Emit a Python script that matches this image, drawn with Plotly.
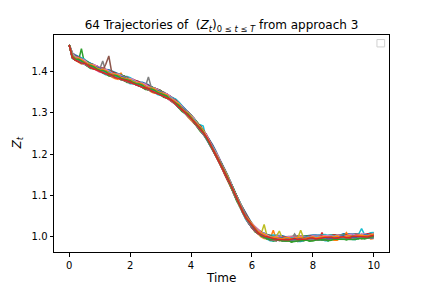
import plotly.graph_objects as go

# ---------------- data ----------------
N_TRAJ = 64
TIME = [round(0.1 * k, 1) for k in range(101)]  # time grid 0..10, step 0.1

# centre of the bundle of trajectories, one value per time step
BASE = [
    1.465,
    1.440, 1.433, 1.430, 1.426, 1.423, 1.419, 1.415, 1.412, 1.409, 1.406,
    1.403, 1.400, 1.397, 1.394, 1.391, 1.389, 1.386, 1.384, 1.381, 1.378,
    1.376, 1.373, 1.370, 1.367, 1.364, 1.361, 1.358, 1.355, 1.352, 1.349,
    1.345, 1.341, 1.336, 1.331, 1.325, 1.318, 1.311, 1.304, 1.297, 1.289,
    1.281, 1.272, 1.263, 1.253, 1.242, 1.229, 1.216, 1.202, 1.188, 1.173,
    1.158, 1.142, 1.126, 1.109, 1.093, 1.077, 1.062, 1.048, 1.036, 1.026,
    1.018, 1.011, 1.006, 1.002, 0.999, 0.997, 0.996, 0.995, 0.995, 0.994,
    0.994, 0.994, 0.994, 0.995, 0.995, 0.995, 0.995, 0.996, 0.996, 0.996,
    0.996, 0.997, 0.997, 0.997, 0.997, 0.998, 0.998, 0.998, 0.998, 0.999,
    0.999, 0.999, 1.000, 1.000, 1.000, 1.000, 1.001, 1.001, 1.001, 1.002,
]

# spread of each trajectory around the centre: digit d -> (d - 5) * DEV_UNIT
DEV_UNIT = 0.0025
DEV = [
    "5 4445565565 5666545434 4455655666 7665545445 5443345554 5665676655 4544334455 5665545566 5443455665 5544566654",
    "5 6655443344 4556656776 6554434455 5666775665 4455334345 5566545443 3445566776 6554455434 4556654455 6677655444",
    "5 3344556655 5443344556 6775565444 3344556665 5676654433 4455656676 5544345566 5443345565 6654434456 6554443345",
    "5 5566776655 4455665544 3445566554 4556677665 5434455665 5443344556 6554456677 6554434455 5665544556 6543344556",
    "5 4433445566 6554433445 5667665543 3445565544 5665543445 6677655443 4556654434 4556677655 4433455665 5443455667",
    "5 6677665544 4556655443 3455667765 5443445566 6554334455 6655443345 5666554434 4556776654 4334556665 5443345566",
    "5 5544334455 6676554433 4556654455 6676554434 4556654433 4455667765 5443345566 5544334556 6776554434 5566554433",
    "5 3455665544 3344556676 6554434455 6655443344 5566776554 4334556654 4556677655 4433456665 5443344556 6654455677",
    "5 4556654433 4556677665 5443345566 5544334556 6776554434 4556654455 6676554433 4556654433 4455667765 5443345566",
    "5 6554434455 6655443344 5566776554 4334556654 4556677655 4433456665 5443344556 6654455677 3455665544 3344556676",
    "5 7766554455 6677766554 5566677665 5544556677 7665545566 6776655445 5667766554 4556677766 5544556676 6655445566",
    "5 3322434455 4432223354 5443332234 4355443322 3344454433 2234445534 3322344455 4423233344 5434332243 4455433422",
    "5 5656545465 5465646556 4565656454 6565465656 5456564565 6546565456 5656456565 4565654656 5465656545 6565456565",
    "5 4434545343 4544343454 3435454343 4543434545 3434543454 4345434543 5434345434 3454343545 4343454345 3454345434",
    "5 6676767656 7656767676 5676765767 6767656767 7656767656 6767676567 6567676765 7676567676 6765767656 7676765676",
    "5 5544455566 6555444555 6665554445 5566655544 4555666555 4445556665 5544455566 6555444555 6665554445 5566655544",
    "5 4455566677 7665544433 3445566777 6655443334 4556677766 5544333445 5667776655 4433344556 6777665544 3334455667",
    "5 6654433344 5566777665 5443334455 6677766554 4333445566 7776655443 3344556677 7665544333 4455667776 6554433344",
    "5 5453546455 3564553645 4563546453 5546354645 5354654356 4553645465 3546545365 4565354645 5436546354 6453564545",
    "5 2333444333 2234443332 3344433322 3444333223 4443332233 4443332234 4433322344 4333223444 3332234443 3322344433",
    "5 7888777666 7788877766 6778887776 6677888777 6667788877 7666778887 7766677888 7776667788 8777666778 8877766677",
    "5 4566545654 5465456545 6545465456 5456545645 4565456545 6545645456 5456545465 4565654545 6545456565 4565454656",
    "5 5433456765 4334567654 3345676543 3456765433 4567654334 5676543345 6765433456 7654334567 6543345676 5433456765",
    "5 6545434565 6545434565 5454345656 5434565654 5434565654 3456565434 5656543456 5654345656 5434565654 3456565434",
    "5 4444555566 6655554444 3334444555 5666666555 4444333344 4455556666 6666555544 4433334444 5555666666 5555444433",
    "5 6665554444 5556667776 6655444455 5666777666 5544444555 6667776665 5544445556 6677766555 4444555666 7766655544",
    "5 3445544332 3445566543 3344554433 3455665443 3345544333 4556654433 3445543334 4566544333 4455433344 5665443334",
    "5 5676656765 6566765676 6567656676 5676656765 6656765665 7656676567 6656765676 6567656676 5676656765 6656765665",
    "5 4343545454 3434545434 5434354545 4343454543 4345454343 5454343454 5434345454 3434545434 3454545343 4545434345",
    "5 5556677766 5544445566 6776655444 4556677766 5544445567 7766544445 5667776654 4444556677 7665544445 5677766544",
    "5 6543345676 5433456765 4334567654 3345676543 3456765433 4567654334 5676543345 6765433456 7654334567 6543345676",
    "5 4456445544 5534554465 4445445654 5544564455 4356445544 5544554465 4455345544 5645554455 4455446544 5534554455",
    "5 6666555566 6677776666 5566667777 6665556666 7777666655 5666677776 6655566667 7776666555 6666777766 6655556666",
    "5 3333444433 3344443333 4444333344 4433334444 3333444433 2344443333 4444333344 4433334444 3333444433 3344443334",
    "5 5465564556 4655645564 6556455646 5564655645 5646556456 4655646556 4556465564 5564655646 6455645564 5646556455",
    "5 7766665555 6666777766 5555666677 7766665555 6677776666 5555667777 6666555566 7777666655 5566777766 6655556677",
    "5 4454445445 4544454454 4445445444 5445444544 4544544454 4454445445 4544454454 4445445444 5445444544 4544544454",
    "5 5657565756 5756476657 5657566756 5746575657 6657565756 5756575647 5657565766 5756575657 5647565756 5756575657",
    "5 3456543456 5434565434 5654345654 3456543456 5434565434 5654345654 3456543456 5434565434 5654345654 3456543456",
    "5 6678876655 4455667788 7766554455 6677887766 5544556677 8877665544 5566778877 6655445566 7788776655 4455667788",
    "5 4433556644 3355664433 5566443355 6644335566 4433556644 3355664433 5566443355 6644335566 4433556644 3355664433",
    "5 5566445566 4455665544 6655445566 5544665566 4455665544 5566445566 4455665544 6655445566 5544665566 4455665544",
    "5 2344332344 3323443323 4433234433 2344332344 3323443323 4433234433 2344332344 3323443323 4433234433 2344332344",
    "5 7677767776 7767776776 7776776777 6776777677 7677767776 7767776776 7776776777 6776777677 7677767776 7767776776",
    "5 4545545454 5545454554 5454545545 4545545454 5545454554 5454545545 4545545454 5545454554 5454545545 4545545454",
    "5 6565656656 5656656565 6656565656 6565656656 5656656565 6656565656 6565656656 5656656565 6656565656 6565656656",
    "5 3434344343 4343443434 3443434343 3434344343 4343443434 3443434343 3434344343 4343443434 3443434343 3434344343",
    "5 5555666655 5544445555 6666555544 4455556666 5555444455 5566665555 4444555566 6655554444 5555666655 5544445555",
    "5 4567654345 6765434567 6543456765 4345676543 4567654345 6765434567 6543456765 4345676543 4567654345 6765434567",
    "5 6543456765 4345676543 4567654345 6765434567 6543456765 4345676543 4567654345 6765434567 6543456765 4345676543",
    "5 5454656545 4565454656 5455656545 4565464656 5454656545 4565454656 5454656546 4565454656 5454656545 4565454656",
    "5 4445556665 5544455566 6555444555 6665554445 5566655544 4555666555 4445556665 5544455566 6555444555 6665554445",
    "5 6667776665 5566677766 6555666777 6665556667 7766655566 6777666555 6667776665 5566677766 6555666777 6665556667",
    "5 3344433344 4333444333 4443334443 3344433344 4333444333 4443334443 3344433344 4333444333 4443334443 3344433344",
    "5 5665445665 4456654456 6544566544 5665445665 4456654456 6544566544 5665445665 4456654456 6544566544 5665445665",
    "5 4556654455 6654455665 4455665544 5566554455 6654455665 4455665544 5566554455 6654455665 4455665544 5566554455",
    "5 7667766776 6776677667 7667766776 6776677667 7667766776 6776677667 7667766776 6776677667 7667766776 6776677667",
    "5 4334433443 3443344334 4334433443 3443344334 4334433443 3443344334 4334433443 3443344334 4334433443 3443344334",
    "5 5556555655 5655565556 5556555655 5655565556 5556555655 5655565556 5556555655 5655565556 5556555655 5655565556",
    "5 6554556554 5565545565 6554556554 5565545565 6554556554 5565545565 6554556554 5565545565 6554556554 5565545565",
    "5 4455445566 5544556655 4455445566 5544556655 4455445566 5544556655 4455445566 5544556655 4455445566 5544556655",
    "5 5566556655 6655665566 5566556655 6655665566 5566556655 6655665566 5566556655 6655665566 5566556655 6655665566",
    "5 4455445544 5544554455 4455445544 5544554455 4455445544 5544554455 4433334433 3322333322 3333223333 3322333344",
    "5 3333443333 3344333344 3333443333 3344334444 4444554444 4455444455 4444554444 4455444455 4455554455 4455554455",
]

# visible spikes: (trajectory, time step, value)
SPIKE_TRAJ = [22, 27, 45, 45, 11, 37, 19, 19, 38, 21, 48, 47, 58, 33, 31, 29]
SPIKE_STEP = [4, 11, 12, 13, 17, 26, 43, 44, 64, 67, 69, 74, 76, 83, 91, 96]
SPIKE_VALUE = [1.456, 1.426, 1.418, 1.438, 1.397, 1.387, 1.271, 1.268,
               1.029, 1.015, 1.013, 1.006, 1.015, 1.009, 1.009, 1.019]

COLORS = ["#1f77b4", "#ff7f0e", "#2ca02c", "#d62728", "#9467bd",
          "#8c564b", "#e377c2", "#7f7f7f", "#bcbd22", "#17becf"]

TITLE = ("64 Trajectories of &nbsp;(<i>Z<sub>t</sub></i>)"
         "<sub>0 ≤ <i>t</i> ≤ <i>T</i></sub> from approach 3")

# ---------------- build trajectories ----------------
n = len(BASE)
paths = []
for i in range(N_TRAJ):
    digits = DEV[i].replace(" ", "")
    digits = (digits + digits[-1] * n)[:n]
    paths.append([BASE[k] + (int(digits[k]) - 5) * DEV_UNIT for k in range(n)])
for tr, st, v in zip(SPIKE_TRAJ, SPIKE_STEP, SPIKE_VALUE):
    paths[tr][st] = v

fig = go.Figure()
for i, ys in enumerate(paths):
    fig.add_trace(go.Scatter(
        x=TIME, y=ys, mode="lines",
        line=dict(color=COLORS[i % 10], width=1.5),
        showlegend=False, hoverinfo="skip",
    ))

FONT = "DejaVu Sans"
axis_common = dict(
    showline=True, linecolor="black", linewidth=1, mirror=True,
    ticks="outside", ticklen=3.5, tickwidth=1, tickcolor="black",
    showgrid=False, zeroline=False, automargin=False,
    tickfont=dict(family=FONT, size=10, color="black"),
)

L, R, T, B = 54, 43, 35, 36
PW, PH = 432 - L - R, 288 - T - B

fig.update_layout(
    width=432, height=288,
    margin=dict(l=L, r=R, t=T, b=B, autoexpand=False),
    paper_bgcolor="white", plot_bgcolor="white",
    font=dict(family=FONT, color="black"),
    title=dict(text=TITLE, x=0.5, xref="paper", xanchor="center",
               y=1 - 25 / 288, yref="container", yanchor="middle",
               font=dict(family=FONT, size=12, color="black")),
    xaxis=dict(range=[-0.5, 10.5], tickvals=[0, 2, 4, 6, 8, 10],
               **axis_common),
    yaxis=dict(range=[0.962, 1.489], tickvals=[1.0, 1.1, 1.2, 1.3, 1.4],
               tickformat=".1f", **axis_common),
    annotations=[
        dict(text="Time", xref="paper", yref="paper",
             x=(221 - L) / PW, y=-(278 - (T + PH)) / PH,
             xanchor="center", yanchor="middle", showarrow=False,
             font=dict(family=FONT, size=12, color="black")),
        dict(text="<i>Z</i><sub><i>t</i></sub>", xref="paper", yref="paper",
             x=(17 - L) / PW, y=0.5, textangle=-90,
             xanchor="center", yanchor="middle", showarrow=False,
             font=dict(family=FONT, size=12, color="black")),
    ],
    shapes=[dict(type="rect", xref="paper", yref="paper",
                 x0=0.964, x1=0.987, y0=0.945, y1=0.979,
                 line=dict(color="#d0d0d0", width=1), fillcolor="white")],
)

fig.write_html(
    "out.html",
    config={"displayModeBar": False},
    post_script="document.body.style.margin='0';document.body.style.padding='0';",
)
